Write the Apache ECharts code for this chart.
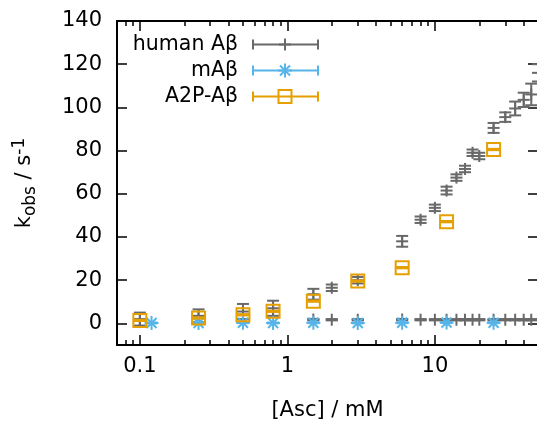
<!DOCTYPE html>
<html>
<head>
<meta charset="utf-8">
<script src="https://cdn.jsdelivr.net/npm/echarts@6/dist/echarts.min.js"></script>
<style>
  html, body { margin: 0; padding: 0; background: #fff; }
  #chart { width: 537px; height: 421px; }
</style>
</head>
<body>
<div id="chart"></div>
<script>
// data: [Asc] in mM, kobs in s^-1, error
const humanX = [0.1, 0.25, 0.5, 0.8, 1.5, 2, 3, 6, 8, 10, 12, 14, 16, 18, 20, 25, 30, 35, 40, 45, 50,
  1.5, 2, 3, 6, 8, 10, 12, 14, 16, 18, 20, 25, 30, 35, 40, 45];
const humanY = [2, 3.5, 5.5, 7, 13.5, 16.5, 20, 38, 48, 53.5, 61.5, 67.5, 71.5, 79, 77.5, 90.5, 95.5, 99.5, 103.5, 106, 116,
  1.8, 1.7, 1.7, 1.8, 1.7, 1.7, 1.7, 1.7, 1.7, 1.7, 1.7, 1.7, 1.7, 1.7, 1.7, 1.7];
const humanErr = [3, 3, 3.5, 3.5, 2.5, 1.5, 1.5, 2.5, 1.5, 1.5, 1.8, 1.5, 1.5, 1.5, 1.5, 2.3, 2.2, 3.2, 3.3, 5, 4,
  0.3, 0.3, 0.3, 0.3, 0.3, 0.3, 0.3, 0.3, 0.3, 0.3, 0.3, 0.3, 0.3, 0.3, 0.3, 0.3];

const mX = [0.12, 0.25, 0.5, 0.8, 1.5, 3, 6, 12, 25];
const mY = [0.2, 0.2, 0.3, 0.2, 0.3, 0.2, 0.3, 0.4, 0.3];
const mErr = [0.2, 0.2, 0.2, 0.2, 0.2, 0.2, 0.2, 0.2, 0.2];

const a2pX = [0.1, 0.25, 0.5, 0.8, 1.5, 3, 6, 12, 25];
const a2pY = [1.4, 2.5, 4, 5.6, 10.3, 19.6, 25.8, 47.1, 80.5];
const a2pErr = [0.3, 0.3, 0.3, 0.3, 0.3, 0.3, 0.3, 0.3, 0.3];

const xMajor = [0.1, 1, 10];
const xMinor = [0.08, 0.09, 0.2, 0.3, 0.4, 0.5, 0.6, 0.7, 0.8, 0.9,
  2, 3, 4, 5, 6, 7, 8, 9, 20, 30, 40];
const yTicks = [0, 20, 40, 60, 80, 100, 120, 140];

const GRAY = '#696969', BLUE = '#56b4e9', ORANGE = '#e69f00';
const FONT = 'DejaVu Sans';

function zip(xs, ys, es) {
  return xs.map((x, i) => [x, ys[i], es[i]]);
}

function markerShapes(kind, x, y, style) {
  const ln = (x1, y1, x2, y2) => ({ type: 'line', shape: { x1, y1, x2, y2 }, style });
  if (kind === 'plus') return [ln(x - 6, y, x + 6, y), ln(x, y - 6, x, y + 6)];
  if (kind === 'star') return [ln(x - 7, y, x + 7, y), ln(x, y - 7, x, y + 7),
    ln(x - 5, y - 5, x + 5, y + 5), ln(x - 5, y + 5, x + 5, y - 5)];
  return [{ type: 'rect', shape: { x: x - 6.5, y: y - 6.5, width: 13, height: 13 }, style }];
}

function errRender(kind, color) {
  return function (params, api) {
    const x = api.value(0), y = api.value(1), e = api.value(2);
    const p = api.coord([x, y]);
    const lo = api.coord([x, y - e])[1], hi = api.coord([x, y + e])[1];
    const s = { stroke: color, lineWidth: 2, fill: null };
    const ln = (x1, y1, x2, y2) => ({ type: 'line', shape: { x1, y1, x2, y2 }, style: s });
    return {
      type: 'group',
      children: [
        ln(p[0], lo, p[0], hi),
        ln(p[0] - 6, lo, p[0] + 6, lo),
        ln(p[0] - 6, hi, p[0] + 6, hi)
      ].concat(markerShapes(kind, p[0], p[1], s))
    };
  };
}

// legend drawn by hand: gnuplot style, text right aligned, errorbar sample
const legendNames = ['human Aβ', 'mAβ', 'A2P-Aβ'];
const legendKinds = ['plus', 'star', 'box'];
const legendColors = [GRAY, BLUE, ORANGE];
const legendGraphic = [];
legendNames.forEach((name, i) => {
  const y = 44.5 + i * 26;
  const s = { stroke: legendColors[i], lineWidth: 2, fill: null };
  legendGraphic.push({
    type: 'text', x: 238, y: y,
    style: { text: name, align: 'right', verticalAlign: 'middle', font: '20.5px "' + FONT + '"', fill: '#000' }
  });
  legendGraphic.push({
    type: 'group',
    children: [
      { type: 'line', shape: { x1: 253, y1: y, x2: 318, y2: y }, style: s },
      { type: 'line', shape: { x1: 253, y1: y - 5, x2: 253, y2: y + 5 }, style: s },
      { type: 'line', shape: { x1: 318, y1: y - 5, x2: 318, y2: y + 5 }, style: s }
    ].concat(markerShapes(legendKinds[i], 285, y, s))
  });
});

const axisLineStyle = { color: '#000', width: 2 };
const tickStyle = { color: '#000', width: 1.5 };
const labelStyle = { fontSize: 21, color: '#000', fontFamily: FONT };

const myChart = echarts.init(document.getElementById('chart'));
myChart.setOption({
  animation: false,
  backgroundColor: '#fff',
  grid: { left: 117, top: 21, width: 421, height: 324, outerBoundsMode: 'none', containLabel: false },
  xAxis: [
    {
      type: 'log', min: 0.07, max: 50, position: 'bottom',
      axisLine: { onZero: false, lineStyle: axisLineStyle },
      axisTick: { inside: true, length: 10, customValues: xMajor, lineStyle: tickStyle },
      axisLabel: Object.assign({ customValues: xMajor, margin: 11, formatter: (v) => String(v) }, labelStyle),
      splitLine: { show: false },
      minorTick: { show: false },
      name: '[Asc] / mM', nameLocation: 'middle', nameGap: 55,
      nameTextStyle: labelStyle
    },
    {
      type: 'log', min: 0.07, max: 50, position: 'bottom',
      axisLine: { show: false, onZero: false },
      axisTick: { inside: true, length: 5, customValues: xMinor, lineStyle: tickStyle },
      axisLabel: { show: false }, splitLine: { show: false }
    },
    {
      type: 'log', min: 0.07, max: 50, position: 'top',
      axisLine: { onZero: false, lineStyle: axisLineStyle },
      axisTick: { inside: true, length: 10, customValues: xMajor, lineStyle: tickStyle },
      axisLabel: { show: false }, splitLine: { show: false }
    },
    {
      type: 'log', min: 0.07, max: 50, position: 'top',
      axisLine: { show: false, onZero: false },
      axisTick: { inside: true, length: 5, customValues: xMinor, lineStyle: tickStyle },
      axisLabel: { show: false }, splitLine: { show: false }
    }
  ],
  yAxis: [
    {
      type: 'value', min: -10, max: 140, position: 'left',
      axisLine: { show: true, onZero: false, lineStyle: axisLineStyle },
      axisTick: { show: true, inside: true, length: 10, customValues: yTicks, lineStyle: tickStyle },
      axisLabel: Object.assign({ customValues: yTicks, margin: 15 }, labelStyle),
      splitLine: { show: false },
      name: '{m|k}{sub|obs}{m| / s}{sup|-1}', nameLocation: 'middle', nameGap: 78,
      nameTextStyle: {
        color: '#000', fontFamily: FONT,
        rich: {
          m: { fontSize: 21, lineHeight: 28, fontFamily: FONT, color: '#000' },
          sub: { fontSize: 17, lineHeight: 28, verticalAlign: 'bottom', fontFamily: FONT, color: '#000' },
          sup: { fontSize: 17, lineHeight: 28, verticalAlign: 'top', fontFamily: FONT, color: '#000' }
        }
      }
    },
    {
      type: 'value', min: -10, max: 140, position: 'right',
      axisLine: { show: true, onZero: false, lineStyle: axisLineStyle },
      axisTick: { show: true, inside: true, length: 10, customValues: yTicks, lineStyle: tickStyle },
      axisLabel: { show: false }, splitLine: { show: false }
    }
  ],
  graphic: legendGraphic,
  series: [
    { name: 'human Aβ', type: 'custom', clip: true, renderItem: errRender('plus', GRAY), data: zip(humanX, humanY, humanErr), encode: { x: 0, y: 1 } },
    { name: 'mAβ', type: 'custom', clip: true, renderItem: errRender('star', BLUE), data: zip(mX, mY, mErr), encode: { x: 0, y: 1 } },
    { name: 'A2P-Aβ', type: 'custom', clip: true, renderItem: errRender('box', ORANGE), data: zip(a2pX, a2pY, a2pErr), encode: { x: 0, y: 1 } }
  ]
});
</script>
</body>
</html>
